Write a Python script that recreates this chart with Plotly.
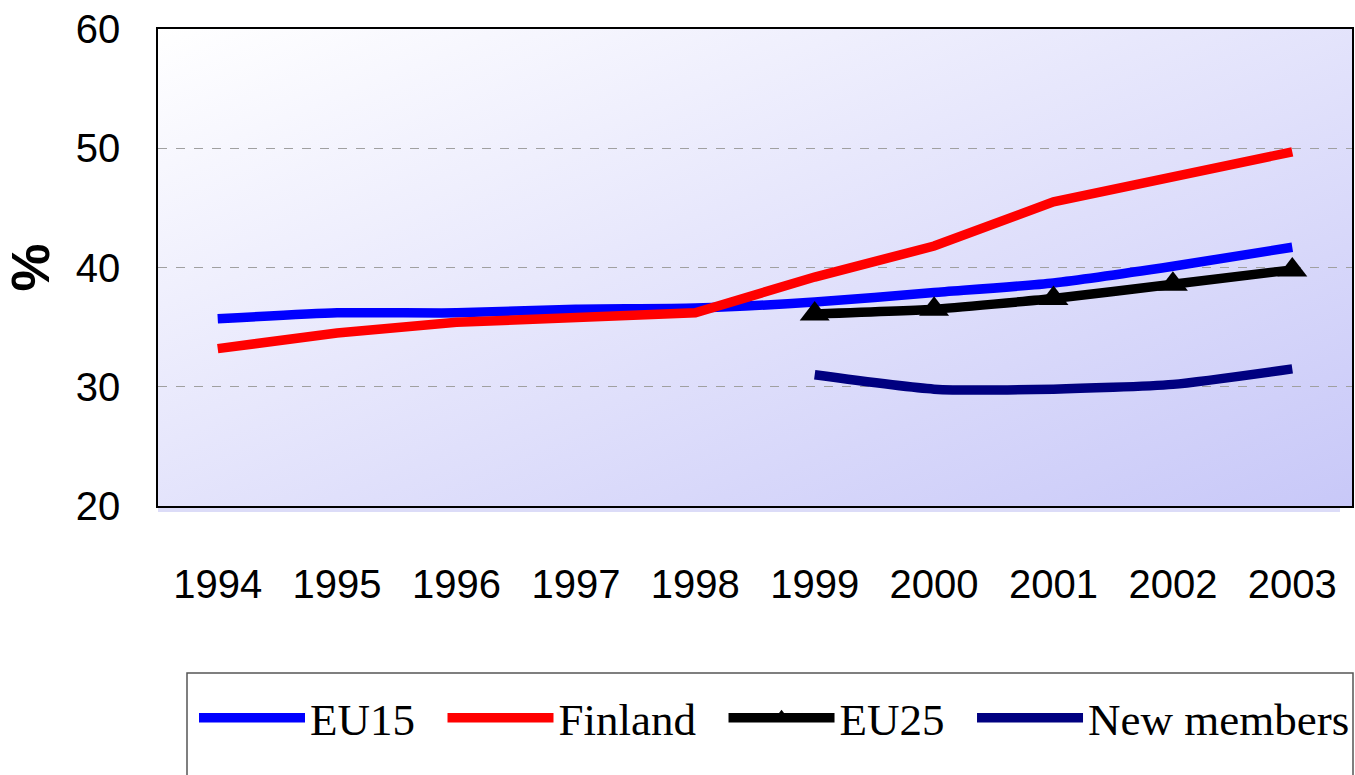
import base64
import plotly.graph_objects as go

years = ["1994", "1995", "1996", "1997", "1998", "1999", "2000", "2001", "2002", "2003"]
eu15 = [35.7, 36.2, 36.2, 36.5, 36.6, 37.1, 37.9, 38.7, 40.1, 41.7]
finland = [33.2, 34.5, 35.4, 35.8, 36.2, 39.2, 41.8, 45.5, 47.6, 49.7]
eu25 = [None, None, None, None, None, 36.1, 36.5, 37.4, 38.6, 39.8]
new_members = [None, None, None, None, None, 31.0, 29.8, 29.8, 30.2, 31.5]
series_names = ["EU15", "Finland", "EU25", "New members"]

W, H = 1355, 775
L, R, T, B = 158, 3, 29, 269
pw, ph = W - L - R, H - T - B

def px_x(x):
    return (x - L) / pw

def px_y(y):
    return (H - B - y) / ph

pad = "\u00a0\u00a0"

fig = go.Figure()
fig.add_trace(go.Scatter(x=years, y=eu15, name=series_names[0] + pad, mode="lines",
                         line=dict(color="#0000ff", width=9.5, shape="spline", smoothing=0.6)))
fig.add_trace(go.Scatter(x=years, y=finland, name=series_names[1] + pad, mode="lines",
                         line=dict(color="#ff0000", width=9.5)))
fig.add_trace(go.Scatter(x=years, y=eu25, name=series_names[2] + pad, mode="lines+markers",
                         line=dict(color="#000000", width=9.5, shape="spline", smoothing=0.4),
                         marker=dict(symbol="triangle-up", size=26, color="#000000")))
fig.add_trace(go.Scatter(x=years, y=new_members, name=series_names[3], mode="lines",
                         line=dict(color="#000080", width=9.5, shape="spline", smoothing=0.6)))

svg = ('<svg xmlns="http://www.w3.org/2000/svg" width="100" height="100" viewBox="0 0 100 100" '
       'preserveAspectRatio="none"><defs><linearGradient id="g" x1="0" y1="0" x2="1" y2="1">'
       '<stop offset="0" stop-color="#ffffff"/><stop offset="1" stop-color="#c8c8f8"/>'
       '</linearGradient></defs><rect width="100" height="100" fill="url(#g)"/></svg>')
src = "data:image/svg+xml;base64," + base64.b64encode(svg.encode()).decode()

tick_font = dict(family="Liberation Sans, Arial, sans-serif", size=40, color="black")

fig.update_layout(
    width=W, height=H,
    margin=dict(l=L, r=R, t=T, b=B, autoexpand=False),
    paper_bgcolor="white",
    plot_bgcolor="rgba(0,0,0,0)",
    images=[dict(source=src, xref="paper", yref="paper", x=0, y=1, sizex=1, sizey=1,
                 sizing="stretch", layer="below", xanchor="left", yanchor="top")],
    shapes=[
        dict(type="rect", xref="paper", yref="paper", x0=0, x1=px_x(1340), y0=px_y(512), y1=0,
             fillcolor="#dcdcf8", line=dict(width=0), layer="below"),
        dict(type="rect", xref="paper", yref="paper", x0=px_x(187), x1=px_x(1353),
             y0=px_y(785), y1=px_y(673), fillcolor="white",
             line=dict(color="#555555", width=1.5), layer="below"),
    ],
    xaxis=dict(
        type="category", range=[-0.5, 9.5], showgrid=False, zeroline=False,
        showline=True, mirror=True, linecolor="black", linewidth=1.5,
        ticks="", tickfont=tick_font, ticklabelstandoff=42,
    ),
    yaxis=dict(
        range=[20, 60], dtick=10, tick0=20, showgrid=True, gridcolor="#a0a0a0",
        griddash="dash", gridwidth=1, zeroline=False,
        showline=True, mirror=True, linecolor="black", linewidth=1.5,
        ticks="", tickfont=tick_font, ticklabelstandoff=28,
        title=dict(text="<b>%</b>", font=dict(family="Liberation Sans, Arial, sans-serif",
                                              size=54, color="black"), standoff=18),
    ),
    legend=dict(
        orientation="h", xref="paper", yref="paper",
        x=px_x(194), y=px_y(718), xanchor="left", yanchor="middle",
        bgcolor="rgba(0,0,0,0)", borderwidth=0,
        font=dict(family="Liberation Serif, Times New Roman, serif", size=45, color="black"),
        itemwidth=106,
    ),
)

fig.write_html("out.html", config={"displayModeBar": False},
               post_script="document.body.style.margin='0';")
